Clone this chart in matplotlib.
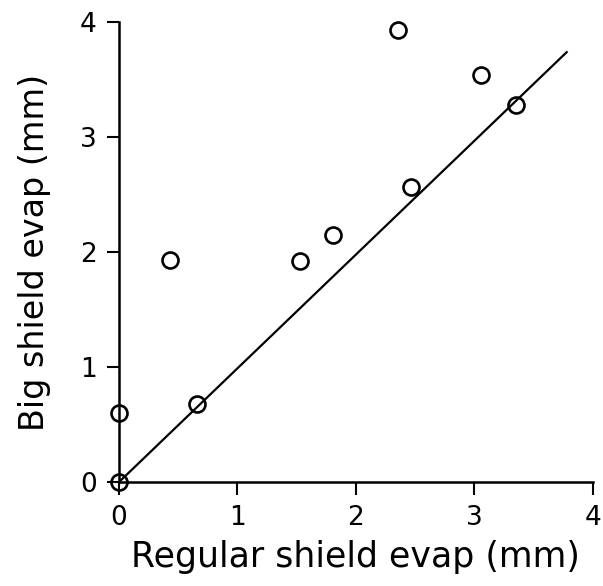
import matplotlib
matplotlib.use("Agg")
import matplotlib.pyplot as plt

# data
regular_evap = [0.0, 0.0, 0.43, 0.66, 1.53, 1.81, 2.36, 2.47, 3.06, 3.35]
big_evap = [0.0, 0.60, 1.93, 0.68, 1.92, 2.15, 3.93, 2.57, 3.54, 3.28]
fit_x = [0.0, 3.78]
fit_y = [0.0, 3.74]
ticks = [0, 1, 2, 3, 4]

fig = plt.figure(figsize=(6.03, 5.86), dpi=100)
ax = fig.add_axes([0.197, 0.177, 0.786, 0.785])

ax.plot(fit_x, fit_y, color="black", linewidth=1.6)
ax.plot(regular_evap, big_evap, linestyle="none", marker="o", markersize=11.5,
        markerfacecolor="none", markeredgecolor="black", markeredgewidth=1.9,
        clip_on=False)

ax.set_xlim(0, 4)
ax.set_ylim(0, 4)
ax.set_xticks(ticks)
ax.set_yticks(ticks)
ax.tick_params(direction="out", length=9, width=1.5, labelsize=19, pad=7)
for side in ("top", "right"):
    ax.spines[side].set_visible(False)
for side in ("left", "bottom"):
    ax.spines[side].set_linewidth(1.8)

ax.set_xlabel("Regular shield evap (mm)", fontsize=25, labelpad=7)
ax.set_ylabel("Big shield evap (mm)", fontsize=24, labelpad=21)

fig.savefig("out.png", dpi=100)
